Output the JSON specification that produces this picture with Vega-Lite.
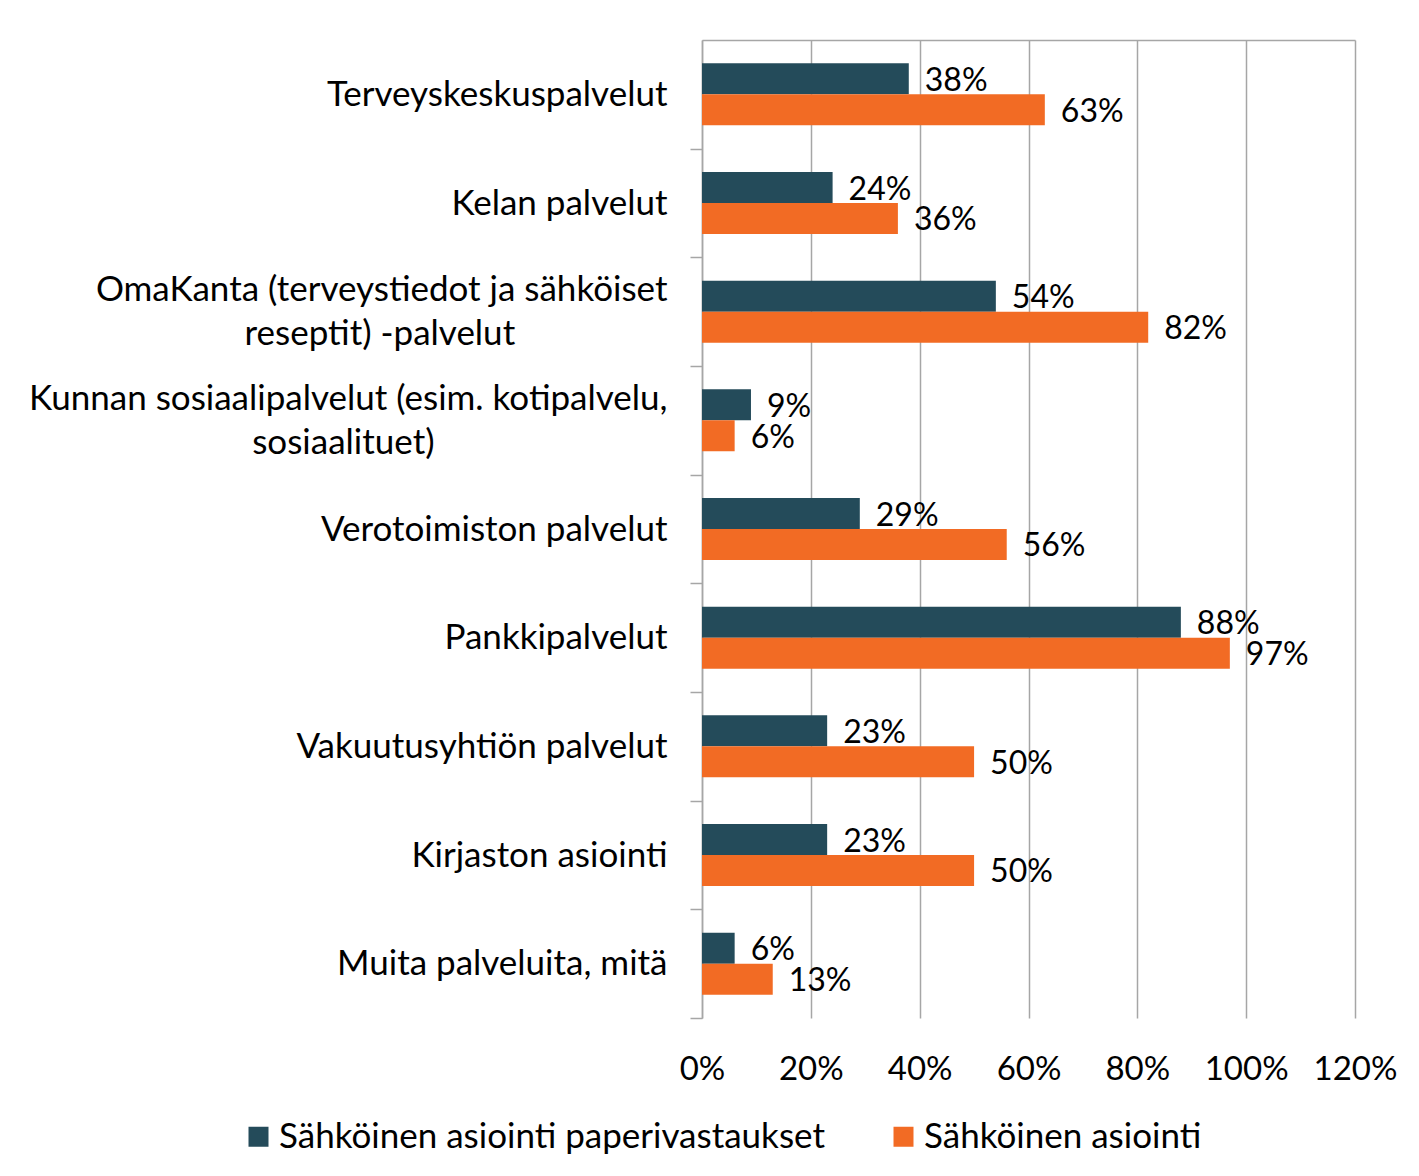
{
  "$schema": "https://vega.github.io/schema/vega-lite/v6.json",
  "width": 653,
  "height": 978,
  "autosize": {"type": "none"},
  "padding": {"left": 702, "top": 40, "right": 64, "bottom": 158},
  "background": "white",
  "config": {"font": "Lato", "view": {"stroke": null}},
  "data": {
    "values": [
      {"category": "Terveyskeskuspalvelut", "series": "Sähköinen asiointi paperivastaukset", "value": 0.38},
      {"category": "Terveyskeskuspalvelut", "series": "Sähköinen asiointi", "value": 0.63},
      {"category": "Kelan palvelut", "series": "Sähköinen asiointi paperivastaukset", "value": 0.24},
      {"category": "Kelan palvelut", "series": "Sähköinen asiointi", "value": 0.36},
      {"category": "OmaKanta (terveystiedot ja sähköiset reseptit) -palvelut", "series": "Sähköinen asiointi paperivastaukset", "value": 0.54},
      {"category": "OmaKanta (terveystiedot ja sähköiset reseptit) -palvelut", "series": "Sähköinen asiointi", "value": 0.82},
      {"category": "Kunnan sosiaalipalvelut (esim. kotipalvelu, sosiaalituet)", "series": "Sähköinen asiointi paperivastaukset", "value": 0.09},
      {"category": "Kunnan sosiaalipalvelut (esim. kotipalvelu, sosiaalituet)", "series": "Sähköinen asiointi", "value": 0.06},
      {"category": "Verotoimiston palvelut", "series": "Sähköinen asiointi paperivastaukset", "value": 0.29},
      {"category": "Verotoimiston palvelut", "series": "Sähköinen asiointi", "value": 0.56},
      {"category": "Pankkipalvelut", "series": "Sähköinen asiointi paperivastaukset", "value": 0.88},
      {"category": "Pankkipalvelut", "series": "Sähköinen asiointi", "value": 0.97},
      {"category": "Vakuutusyhtiön palvelut", "series": "Sähköinen asiointi paperivastaukset", "value": 0.23},
      {"category": "Vakuutusyhtiön palvelut", "series": "Sähköinen asiointi", "value": 0.50},
      {"category": "Kirjaston asiointi", "series": "Sähköinen asiointi paperivastaukset", "value": 0.23},
      {"category": "Kirjaston asiointi", "series": "Sähköinen asiointi", "value": 0.50},
      {"category": "Muita palveluita, mitä", "series": "Sähköinen asiointi paperivastaukset", "value": 0.06},
      {"category": "Muita palveluita, mitä", "series": "Sähköinen asiointi", "value": 0.13}
    ]
  },
  "encoding": {
    "y": {
      "field": "category",
      "type": "nominal",
      "sort": null,
      "scale": {"paddingInner": 0.43, "paddingOuter": 0.215},
      "axis": {
        "title": null,
        "domain": true,
        "domainColor": "#A6A6A6",
        "domainWidth": 1.5,
        "ticks": true,
        "tickColor": "#A6A6A6",
        "tickWidth": 1.5,
        "tickSize": 12,
        "tickOffset": 54.33,
        "grid": false,
        "labelFont": "Lato",
        "labelFontSize": 35,
        "labelColor": "#000000",
        "labelLimit": 800,
        "labelLineHeight": 22,
        "labelPadding": 23,
        "labelOffset": -76.33,
        "labelExpr": "indexof(datum.value, 'OmaKanta') == 0 ? ['OmaKanta (terveystiedot ja sähköiset', '\u200b', 'reseptit) -palvelut\u00a0\u00a0\u00a0\u00a0\u00a0\u00a0\u00a0\u00a0\u00a0\u00a0\u00a0\u00a0\u00a0\u00a0\u00a0\u00a0\u00a0\u200b'] : indexof(datum.value, 'Kunnan') == 0 ? ['Kunnan sosiaalipalvelut (esim. kotipalvelu,', '\u200b', 'sosiaalituet)\u00a0\u00a0\u00a0\u00a0\u00a0\u00a0\u00a0\u00a0\u00a0\u00a0\u00a0\u00a0\u00a0\u00a0\u00a0\u00a0\u00a0\u00a0\u00a0\u00a0\u00a0\u00a0\u00a0\u00a0\u00a0\u00a0\u200b'] : ['\u200b', datum.value]"
      }
    },
    "yOffset": {
      "field": "series",
      "type": "nominal",
      "sort": ["Sähköinen asiointi paperivastaukset", "Sähköinen asiointi"],
      "scale": {"paddingInner": 0}
    }
  },
  "layer": [
    {
      "mark": {"type": "bar"},
      "encoding": {
        "x": {
          "field": "value",
          "type": "quantitative",
          "scale": {"domain": [0, 1.2], "nice": false},
          "axis": {
            "orient": "top",
            "title": null,
            "labels": false,
            "ticks": false,
            "domain": true,
            "domainColor": "#A6A6A6",
            "domainWidth": 1.5,
            "grid": true,
            "gridColor": "#A6A6A6",
            "gridWidth": 1.5,
            "values": [0, 0.2, 0.4, 0.6, 0.8, 1, 1.2]
          }
        },
        "color": {
          "field": "series",
          "type": "nominal",
          "scale": {
            "domain": ["Sähköinen asiointi paperivastaukset", "Sähköinen asiointi"],
            "range": ["#244B5A", "#F26B24"]
          },
          "legend": {
            "orient": "none",
            "legendX": -461,
            "legendY": 1079,
            "direction": "horizontal",
            "title": null,
            "symbolType": "square",
            "symbolSize": 400,
            "symbolStrokeWidth": 0,
            "labelFont": "Lato",
            "labelFontSize": 35,
            "labelColor": "#000000",
            "labelOffset": 3,
            "labelLimit": 800,
            "columnPadding": 61
          }
        }
      }
    },
    {
      "mark": {"type": "text", "align": "left", "baseline": "middle", "dx": 16, "dy": 2, "fontSize": 32, "font": "Lato", "color": "#000000"},
      "encoding": {
        "x": {
          "field": "value",
          "type": "quantitative",
          "scale": {"domain": [0, 1.2], "nice": false},
          "axis": {
            "orient": "bottom",
            "title": null,
            "labels": true,
            "ticks": false,
            "domain": false,
            "grid": false,
            "format": ".0%",
            "labelFont": "Lato",
            "labelFontSize": 33,
            "labelColor": "#000000",
            "labelPadding": 35,
            "labelFlush": false,
            "values": [0, 0.2, 0.4, 0.6, 0.8, 1, 1.2]
          }
        },
        "text": {"field": "value", "type": "quantitative", "format": ".0%"}
      }
    }
  ],
  "resolve": {"axis": {"x": "independent"}}
}
